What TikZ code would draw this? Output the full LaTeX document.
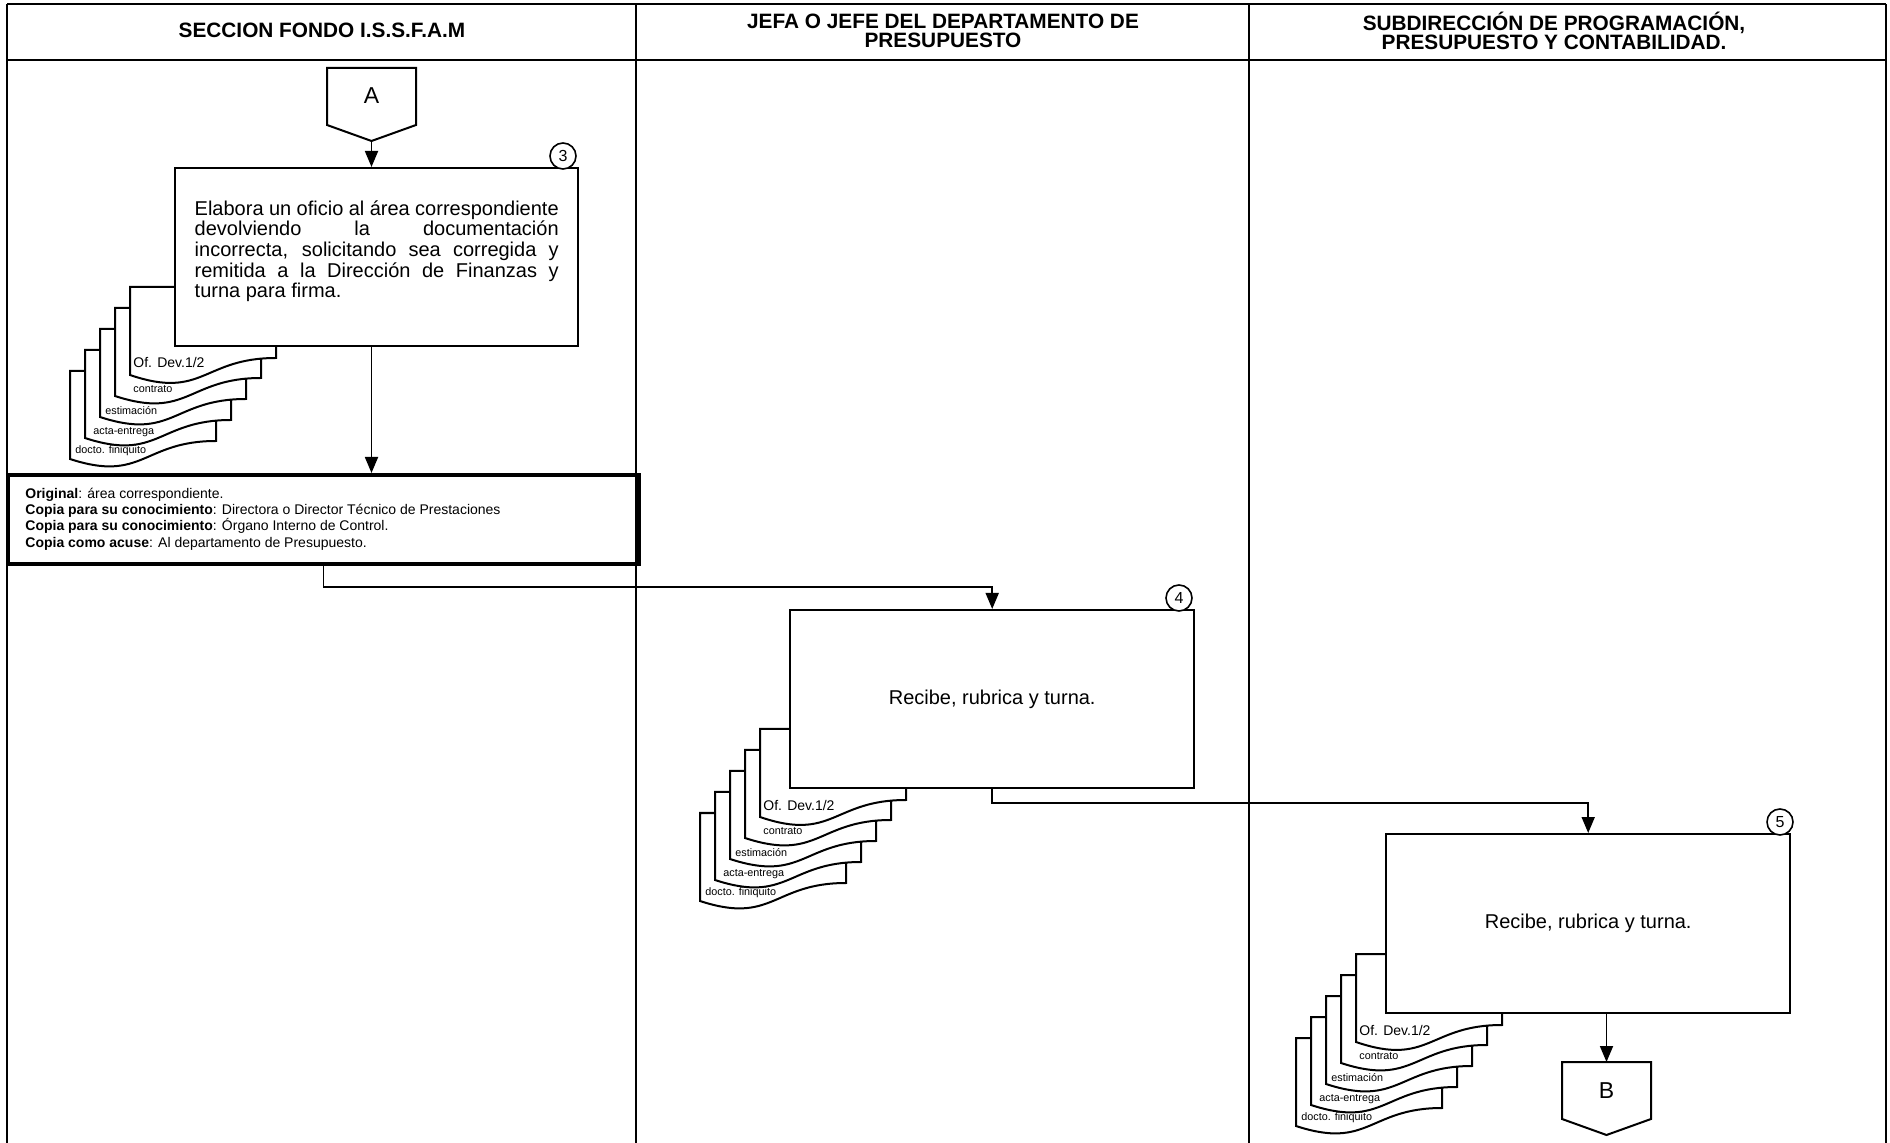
\documentclass[tikz,border=0pt]{standalone}
\usepackage{fontspec}
\setmainfont{Liberation Sans}
\usetikzlibrary{arrows.meta}
\AtBeginDocument{\lineskiplimit=-5pt\relax\lineskip=0pt\relax}
% #1 left, #2 top, #3 right-bottom y, #4 left-bottom y
\newcommand\mydoc[4]{%
  \path[docline] ({#1},{#2}) -- ({#1+146},{#2}) -- ({#1+146},{#3})
    .. controls ({#1+73},{#3}) and ({#1+73},{#3+42}) .. ({#1},{#4}) -- cycle;}
\newcommand\docstack[3]{%
  \mydoc{#1-89}{#2+26}{#2+96}{#2+114}
  \node[doclbl] (#3e) at ({#1-84},{#2+106}) {docto. finiquito};
  \mydoc{#1-74}{#2+5}{#2+75}{#2+93}
  \node[doclbl] (#3d) at ({#1-66},{#2+87}) {acta-entrega};
  \mydoc{#1-59}{#2-16}{#2+54}{#2+72}
  \node[doclbl] (#3c) at ({#1-54},{#2+66}) {estimación};
  \mydoc{#1-44}{#2-37}{#2+33}{#2+51}
  \node[doclbl] (#3b) at ({#1-26},{#2+44}) {contrato};
  \mydoc{#1-29}{#2-58}{#2+13}{#2+30}
  \node[doclbl, font=\fontsize{7}{7}\selectfont] (#3a) at ({#1-26},{#2+18}) {Of. Dev.1/2};
}
\begin{document}
\begin{tikzpicture}[x=0.5pt,y=-0.5pt,
  frameline/.style={line width=0.8pt},
  procbox/.style={draw, line width=1.2pt, fill=white, anchor=north west, inner sep=0pt},
  copybox/.style={draw, line width=2pt, anchor=north west, inner sep=0pt},
  docline/.style={draw, line width=1pt, fill=white},
  conn/.style={draw, line width=1pt},
  flow/.style={line width=0.9pt, -{Triangle[width=6.5pt,length=8pt]}},
  stepnum/.style={circle, draw, line width=0.8pt, fill=white, minimum size=13pt, inner sep=0pt, font=\fontsize{8}{8}\selectfont},
  hdr/.style={align=center, inner sep=0pt, font=\bfseries\fontsize{10.4}{9.2}\selectfont},
  bodytext/.style={align=left, inner sep=0pt, font=\fontsize{10}{10.35}\selectfont},
  copytext/.style={anchor=north west, align=left, inner sep=0pt, font=\fontsize{7}{8.15}\selectfont},
  lettr/.style={inner sep=0pt, font=\fontsize{11.5}{11.5}\selectfont},
  doclbl/.style={anchor=west, inner sep=0pt, font=\fontsize{5.4}{5.4}\selectfont}
]
\useasboundingbox (0,0) rectangle (1890,1143);
\fill[white] (0,0) rectangle (1890,1143);

% frame
\draw[frameline] (7,4) -- (1886,4);
\draw[frameline] (7,60) -- (1886,60);
\draw[frameline] (7,4) -- (7,1143);
\draw[frameline] (636,4) -- (636,1143);
\draw[frameline] (1249,4) -- (1249,1143);
\draw[frameline] (1886,4) -- (1886,1143);

% headers
\node[hdr] (h1) at (322,30) {SECCION FONDO I.S.S.F.A.M};
\node[hdr] (h2) at (943,31) {JEFA O JEFE DEL DEPARTAMENTO DE\\PRESUPUESTO};
\node[hdr] (h3) at (1554,31) {SUBDIRECCIÓN DE PROGRAMACIÓN,\\PRESUPUESTO Y CONTABILIDAD.};

% connector A
\path[conn, fill=white] (327,68) -- (416,68) -- (416,125) -- (371.5,141) -- (327,125) -- cycle;
\node[lettr] (A) at (371.5,96) {A};
\coordinate (Atip) at (371.5,141);

% step 3
\docstack{159}{345}{s3}
\node[procbox, minimum width=201.5pt, minimum height=89pt] (b3) at (174,167) {};
\node[bodytext] (t3) at ([yshift=3pt]b3.center) {%
\makebox[182pt][s]{Elabora un oficio al área correspondiente}\\
\makebox[182pt][s]{devolviendo la documentación}\\
\makebox[182pt][s]{incorrecta, solicitando sea corregida y}\\
\makebox[182pt][s]{remitida a la Dirección de Finanzas y}\\
turna para firma.};
\node[stepnum] (n3) at (563,156) {3};
\draw[flow] (Atip) -- (Atip |- b3.north);

% copies box
\node[copybox, minimum width=315.5pt, minimum height=44.5pt] (cp) at (6,473) {};
\node[copytext] (cpt) at (25,487.5) {%
\textbf{Original}: área correspondiente.\\
\textbf{Copia para su conocimiento}: Directora o Director Técnico de Prestaciones\\
\textbf{Copia para su conocimiento}: Órgano Interno de Control.\\
\textbf{Copia como acuse}: Al departamento de Presupuesto.};
\draw[flow] (b3.south -| Atip) -- (Atip |- cp.north);

% step 4
\docstack{789}{787}{s4}
\node[procbox, minimum width=202pt, minimum height=89pt] (b4) at (789,609) {};
\node[bodytext] (t4) at (b4.center) {Recibe, rubrica y turna.};
\node[stepnum] (n4) at (1179,598) {4};
\draw[flow] (cp.south) -- ++(0,21) -| (b4.north);

% step 5
\docstack{1385}{1012}{s5}
\node[procbox, minimum width=202pt, minimum height=89.5pt] (b5) at (1385,833) {};
\node[bodytext] (t5) at (b5.center) {Recibe, rubrica y turna.};
\node[stepnum] (n5) at (1780,822) {5};
\draw[flow] (b4.south) -- ++(0,14) -| (b5.north);

% connector B
\coordinate (Btop) at (1606.5,1062);
\path[conn, fill=white] (1562,1062) -- (1651,1062) -- (1651,1119) -- (1606.5,1135) -- (1562,1119) -- cycle;
\node[lettr] (B) at (1606.5,1091) {B};
\draw[flow] (b5.south -| Btop) -- (Btop);
\end{tikzpicture}
\end{document}
